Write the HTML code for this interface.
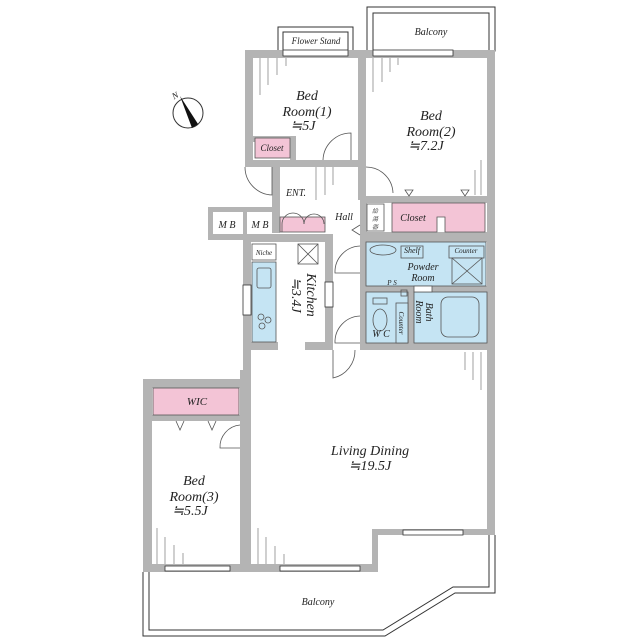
<!DOCTYPE html>
<html><head><meta charset="utf-8"><style>
html,body{margin:0;padding:0;background:#fff}
svg{display:block}
text{font-family:"Liberation Serif","Noto Serif CJK SC",serif;font-style:italic;fill:#222}
</style></head><body>
<svg width="640" height="640" viewBox="0 0 640 640" xmlns="http://www.w3.org/2000/svg">
<g fill="none" stroke="#333" stroke-width="1">
<rect x="278" y="27" width="75" height="24"/>
<rect x="283" y="32" width="65" height="19"/>
<rect x="367" y="7" width="128" height="44"/>
<rect x="373" y="13" width="116" height="38"/>
<polyline points="143,572 143,636 385,636 455,593 495,593 495,535"/>
<polyline points="149,572 149,630 383,630 453,587 489,587 489,535"/>
</g>
<g fill="#b4b4b4">
<rect x="245" y="50" width="250" height="8"/>
<rect x="245" y="50" width="8" height="116"/>
<rect x="358" y="50" width="8" height="150"/>
<rect x="487" y="50" width="8" height="485"/>
<rect x="245" y="160" width="120" height="7"/>
<rect x="253" y="136" width="38" height="6"/>
<rect x="290" y="136" width="6" height="24"/>
<rect x="272" y="167" width="8" height="66"/>
<rect x="360" y="196" width="135" height="7"/>
<rect x="360" y="196" width="7" height="150"/>
<rect x="360" y="232" width="135" height="10"/>
<rect x="360" y="286" width="135" height="6"/>
<rect x="408" y="292" width="6" height="52"/>
<rect x="360" y="343" width="135" height="7"/>
<rect x="208" y="207" width="72" height="5"/>
<rect x="208" y="207" width="5" height="32"/>
<rect x="208" y="234" width="72" height="6"/>
<rect x="243" y="207" width="4" height="30"/>
<rect x="243" y="234" width="8" height="150"/>
<rect x="243" y="234" width="90" height="8"/>
<rect x="325" y="234" width="8" height="112"/>
<rect x="248" y="342" width="30" height="8"/>
<rect x="305" y="342" width="28" height="8"/>
<rect x="143" y="379" width="108" height="9"/>
<rect x="143" y="379" width="9" height="193"/>
<rect x="240" y="370" width="11" height="202"/>
<rect x="152" y="415" width="88" height="6"/>
<rect x="143" y="564" width="235" height="8"/>
<rect x="372" y="529" width="6" height="43"/>
<rect x="372" y="529" width="123" height="6"/>
</g>
<g fill="#fff" stroke="#333" stroke-width="0.8">
<rect x="283" y="50" width="65" height="6"/>
<rect x="373" y="50" width="80" height="6"/>
<rect x="165" y="566" width="65" height="5"/>
<rect x="280" y="566" width="80" height="5"/>
<rect x="403" y="530" width="60" height="5"/>
<rect x="243" y="285" width="8" height="30"/>
<rect x="325" y="282" width="8" height="25"/>
</g>
<g fill="#f3c4d6" stroke="#555" stroke-width="0.8">
<rect x="255" y="138" width="35" height="20"/>
<rect x="280" y="217" width="45" height="15"/>
<path d="M392 203 H485 V232 H445 V217 H437 V232 H392 Z"/>
<rect x="153" y="388" width="86" height="27"/>
</g>
<g fill="#c5e4f3" stroke="#555" stroke-width="0.8">
<rect x="366" y="242" width="120" height="44"/>
<rect x="366" y="292" width="42" height="51"/>
<rect x="414" y="292" width="73" height="51"/>
<rect x="252" y="262" width="24" height="80"/>
<rect x="396" y="303" width="12" height="40"/>
<rect x="401" y="246" width="22" height="12"/>
<rect x="449" y="246" width="35" height="12"/>
<rect x="452" y="258" width="30" height="26"/>
<rect x="441" y="297" width="38" height="40" rx="7"/>
<ellipse cx="383" cy="250" rx="13" ry="5"/>
<ellipse cx="380" cy="320" rx="7" ry="11"/>
<rect x="373" y="298" width="14" height="6"/>
<rect x="257" y="268" width="14" height="20" rx="2"/>
<circle cx="261" cy="317" r="3"/><circle cx="268" cy="320" r="3"/><circle cx="262" cy="326" r="3"/>
</g>
<g stroke="#555" stroke-width="0.8" fill="none">
<line x1="452" y1="258" x2="482" y2="284"/><line x1="482" y1="258" x2="452" y2="284"/>
<rect x="298" y="244" width="20" height="20"/>
<line x1="298" y1="244" x2="318" y2="264"/><line x1="318" y1="244" x2="298" y2="264"/>
<rect x="252" y="244" width="24" height="16"/>
<rect x="367" y="204" width="17" height="27"/>
<rect x="401" y="290" width="6" height="6"/>
<rect x="414" y="286" width="18" height="6" fill="#fff"/>
<path d="M323 160 A28 28 0 0 1 351 133 V160"/>
<path d="M366 167 A27 27 0 0 1 393 193"/>
<path d="M245 167 A28 28 0 0 0 272 195 V167"/>
<path d="M360 246 A26 26 0 0 0 335 273 H360"/>
<path d="M360 316 A26 26 0 0 0 335 343 H360"/>
<path d="M333 350 V378 A28 28 0 0 0 355 350"/>
<path d="M240 448 H220 A22 22 0 0 1 240 425"/>
<path d="M282 232 V224 A11 11 0 0 1 304 224"/>
<path d="M304 224 A10 10 0 0 1 324 224"/>
<path d="M409 196 L405 190 L413 190 Z M465 196 L461 190 L469 190 Z"/>
<path d="M176 421 L180 430 L184 421 M208 421 L212 430 L216 421"/>
<path d="M360 225 L352 230 L360 235"/>
</g>
<g stroke="#888" stroke-width="0.8">
<line x1="260" y1="58" x2="260" y2="95"/><line x1="268" y1="58" x2="268" y2="85"/><line x1="277" y1="58" x2="277" y2="75"/><line x1="286" y1="58" x2="286" y2="66"/>
<line x1="373" y1="58" x2="373" y2="92"/><line x1="382" y1="58" x2="382" y2="82"/><line x1="390" y1="58" x2="390" y2="72"/><line x1="398" y1="58" x2="398" y2="65"/>
<line x1="481" y1="195" x2="481" y2="160"/><line x1="475" y1="195" x2="475" y2="170"/>
<line x1="316" y1="167" x2="316" y2="200"/><line x1="325" y1="167" x2="325" y2="195"/><line x1="333" y1="167" x2="333" y2="185"/>
<line x1="157" y1="564" x2="157" y2="528"/><line x1="165" y1="564" x2="165" y2="537"/><line x1="174" y1="564" x2="174" y2="545"/><line x1="183" y1="564" x2="183" y2="553"/>
<line x1="258" y1="564" x2="258" y2="528"/><line x1="266" y1="564" x2="266" y2="537"/><line x1="275" y1="564" x2="275" y2="546"/><line x1="284" y1="564" x2="284" y2="554"/>
<line x1="481" y1="352" x2="481" y2="390"/><line x1="473" y1="352" x2="473" y2="380"/><line x1="465" y1="352" x2="465" y2="370"/>
</g>
<circle cx="188" cy="113" r="15" fill="none" stroke="#333"/>
<polygon points="180,96 198,124 192,128" fill="#111"/>
<text x="172" y="98" font-size="9" transform="rotate(-30 176 95)">N</text>
<g text-anchor="middle">
<text x="316" y="44" font-size="9">Flower Stand</text>
<text x="431" y="35" font-size="10">Balcony</text>
<text x="307" y="100" font-size="14">Bed</text>
<text x="307" y="116" font-size="14">Room(1)</text>
<text x="303" y="130" font-size="14">≒5J</text>
<text x="431" y="120" font-size="14">Bed</text>
<text x="431" y="136" font-size="14">Room(2)</text>
<text x="426" y="150" font-size="14">≒7.2J</text>
<text x="272" y="151" font-size="9">Closet</text>
<text x="296" y="196" font-size="10">ENT.</text>
<text x="344" y="220" font-size="10">Hall</text>
<text x="413" y="221" font-size="10">Closet</text>
<text x="227" y="228" font-size="10">M B</text>
<text x="260" y="228" font-size="10">M B</text>
<text x="264" y="255" font-size="7">Niche</text>
<text x="412" y="253" font-size="8">Shelf</text>
<text x="466" y="253" font-size="7">Counter</text>
<text x="423" y="270" font-size="10">Powder</text>
<text x="423" y="281" font-size="10">Room</text>
<text x="392" y="285" font-size="7">P S</text>
<text x="381" y="337" font-size="10">W C</text>
<text x="197" y="405" font-size="11">WIC</text>
<text x="194" y="485" font-size="14">Bed</text>
<text x="194" y="501" font-size="14">Room(3)</text>
<text x="190" y="515" font-size="14">≒5.5J</text>
<text x="370" y="455" font-size="14">Living Dining</text>
<text x="370" y="470" font-size="14">≒19.5J</text>
<text x="318" y="605" font-size="10">Balcony</text>
<text transform="translate(307 295) rotate(90)" font-size="14">Kitchen</text>
<text transform="translate(292 295) rotate(90)" font-size="14">≒3.4J</text>
<text transform="translate(399 323) rotate(90)" font-size="7">Counter</text>
<text transform="translate(426 312) rotate(90)" font-size="10">Bath</text>
<text transform="translate(416 312) rotate(90)" font-size="10">Room</text>
<text x="375" y="213" font-size="6">給</text><text x="375" y="221" font-size="6">湯</text><text x="375" y="229" font-size="6">器</text>
</g>
</svg>
</body></html>
